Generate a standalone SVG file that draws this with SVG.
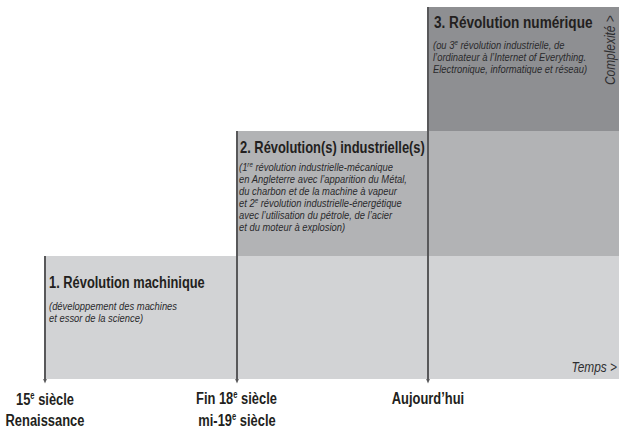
<svg xmlns="http://www.w3.org/2000/svg" width="619" height="428" viewBox="0 0 619 428">
<defs>
<style>
.band1{fill:#d2d3d5}
.band2{fill:#b2b3b5}
.band3{fill:#8e8f92}
.title{font-family:"Liberation Sans",Arial,sans-serif;font-weight:bold;font-size:17px;fill:#231f20}
.sub{font-family:"Liberation Sans",Arial,sans-serif;font-style:italic;font-size:11.5px;fill:#2a2a2c}
.axis{font-family:"Liberation Sans",Arial,sans-serif;font-style:italic;font-size:14px;fill:#2e2e30}
.date{font-family:"Liberation Sans",Arial,sans-serif;font-weight:bold;font-size:17px;fill:#231f20;text-anchor:middle}
.conn{stroke:#58585a;stroke-width:2;fill:none}
</style>
<marker id="tip" viewBox="0 0 6 6" refX="3" refY="3" markerWidth="5" markerHeight="5" markerUnits="userSpaceOnUse" orient="auto">
<path d="M0,0.5 L6,3 L0,5.5 z" fill="#58585a"/>
</marker>
</defs>
<rect width="619" height="428" fill="#ffffff"/>

<g id="rev1">
<rect class="band1" x="45" y="256" width="574" height="123"/>
<text class="title" transform="translate(49,288) scale(0.757,1)">1. Révolution machinique</text>
<g transform="translate(49,0) scale(0.818,1)">
<text class="sub" x="0" y="310">(développement des machines</text>
<text class="sub" x="0" y="322">et essor de la science)</text>
</g>
</g>

<g id="rev2">
<rect class="band2" x="237" y="131" width="382" height="125"/>
<text class="title" transform="translate(240,153) scale(0.759,1)">2. Révolution(s) industrielle(s)</text>
<g transform="translate(239,0) scale(0.818,1)">
<text class="sub" x="0" y="171">(1<tspan font-size="7.5" dy="-4">re</tspan><tspan dy="4"> révolution industrielle-mécanique</tspan></text>
<text class="sub" x="0" y="183">en Angleterre avec l’apparition du Métal,</text>
<text class="sub" x="0" y="195">du charbon et de la machine à vapeur</text>
<text class="sub" x="0" y="207">et 2<tspan font-size="7.5" dy="-4">e</tspan><tspan dy="4"> révolution industrielle-énergétique</tspan></text>
<text class="sub" x="0" y="219">avec l’utilisation du pétrole, de l’acier</text>
<text class="sub" x="0" y="231">et du moteur à explosion)</text>
</g>
</g>

<g id="rev3">
<rect class="band3" x="428" y="7" width="191" height="124"/>
<text class="title" transform="translate(434,28) scale(0.8,1)">3. Révolution numérique</text>
<g transform="translate(433,0) scale(0.818,1)">
<text class="sub" x="0" y="49">(ou 3<tspan font-size="7.5" dy="-4">e</tspan><tspan dy="4"> révolution industrielle, de</tspan></text>
<text class="sub" x="0" y="61">l’ordinateur à l’Internet of Everything.</text>
<text class="sub" x="0" y="73">Electronique, informatique et réseau)</text>
</g>
</g>

<g id="connectors">
<line class="conn" x1="45" y1="256" x2="45" y2="381" marker-end="url(#tip)"/>
<line class="conn" x1="237" y1="131" x2="237" y2="381" marker-end="url(#tip)"/>
<line class="conn" x1="428" y1="7" x2="428" y2="381" marker-end="url(#tip)"/>
</g>

<g id="axes">
<text class="axis" transform="translate(615,85) rotate(-90) scale(0.85,1)">Complexité &gt;</text>
<text class="axis" text-anchor="end" transform="translate(617,372) scale(0.85,1)">Temps &gt;</text>
</g>

<g id="date1">
<text class="date" transform="translate(45,405) scale(0.76,1)">15<tspan font-size="10" dy="-6">e</tspan><tspan dy="6"> siècle</tspan></text>
<text class="date" transform="translate(45,426) scale(0.76,1)">Renaissance</text>
</g>
<g id="date2">
<text class="date" transform="translate(236.5,404) scale(0.76,1)">Fin 18<tspan font-size="10" dy="-6">e</tspan><tspan dy="6"> siècle</tspan></text>
<text class="date" transform="translate(237,426) scale(0.76,1)">mi-19<tspan font-size="10" dy="-6">e</tspan><tspan dy="6"> siècle</tspan></text>
</g>
<g id="date3">
<text class="date" transform="translate(428,404) scale(0.76,1)">Aujourd’hui</text>
</g>
</svg>
